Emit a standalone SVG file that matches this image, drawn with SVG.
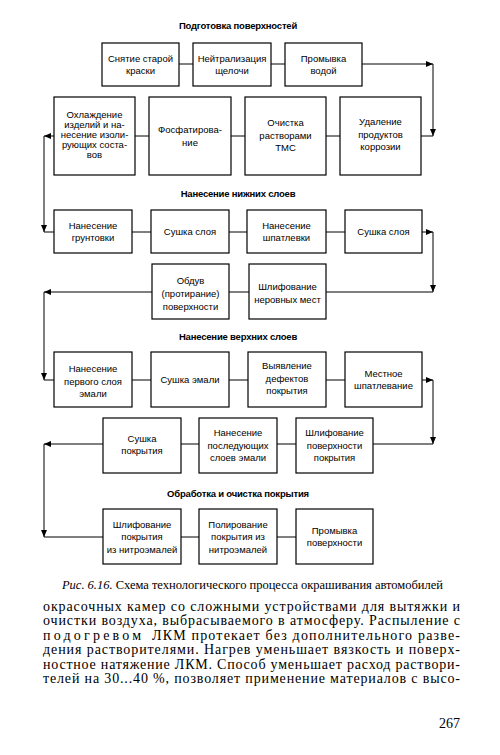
<svg xmlns="http://www.w3.org/2000/svg" width="500" height="755" viewBox="0 0 500 755">
<style>
.bx{fill:#fff;stroke:#000;stroke-width:1.2}
.t{font-family:"Liberation Sans",Arial,sans-serif;font-size:9.5px;text-anchor:middle;fill:#000}
.h{font-family:"Liberation Sans",Arial,sans-serif;font-size:9.5px;font-weight:bold;text-anchor:middle;fill:#000;letter-spacing:-0.2px}
.c{fill:none;stroke:#000;stroke-width:1}
.body{font-family:"Liberation Serif","Times New Roman",serif;font-size:14px;fill:#000}
.cap{font-family:"Liberation Serif","Times New Roman",serif;font-size:12.5px;fill:#000}
</style>
<defs>
<marker id="ar" markerUnits="userSpaceOnUse" markerWidth="7" markerHeight="6" refX="7" refY="3" orient="auto"><path d="M0,0 L7,3 L0,6 z" fill="#000"/></marker>
</defs>
<rect width="500" height="755" fill="#fff"/>
<g id="titles">
<text class="h" x="238" y="28.5">Подготовка поверхностей</text>
<text class="h" x="238" y="196.5">Нанесение нижних слоев</text>
<text class="h" x="238" y="339.5">Нанесение верхних слоев</text>
<text class="h" x="238" y="496.5">Обработка и очистка покрытия</text>
</g>
<g id="connectors">
<path class="c" d="M179,64 H193 M271,64 H285 M135,136 H149 M231,136 H245 M326,136 H340"/>
<path class="c" d="M362,64 H433" marker-end="url(#ar)"/>
<path class="c" d="M433,64 V136" marker-end="url(#ar)"/>
<path class="c" d="M421,136 H433"/>
<path class="c" d="M54,136 H44" marker-end="url(#ar)"/>
<path class="c" d="M44,136 V232" marker-end="url(#ar)"/>
<path class="c" d="M44,232 H54"/>
<path class="c" d="M132,232 H151 M229,232 H247 M326,232 H345 M229,292 H249"/>
<path class="c" d="M422,232 H433" marker-end="url(#ar)"/>
<path class="c" d="M433,232 V292" marker-end="url(#ar)"/>
<path class="c" d="M326,292 H433"/>
<path class="c" d="M152,292 H44" marker-end="url(#ar)"/>
<path class="c" d="M44,292 V380" marker-end="url(#ar)"/>
<path class="c" d="M44,380 H54"/>
<path class="c" d="M132,380 H151 M229,380 H248 M326,380 H345 M181,444 H199 M277,444 H296"/>
<path class="c" d="M422,380 H433" marker-end="url(#ar)"/>
<path class="c" d="M433,380 V444" marker-end="url(#ar)"/>
<path class="c" d="M373,444 H433"/>
<path class="c" d="M103,444 H44" marker-end="url(#ar)"/>
<path class="c" d="M44,444 V537" marker-end="url(#ar)"/>
<path class="c" d="M44,537 H103 M181,537 H199 M277,537 H296"/>
</g>
<g id="n1"><rect class="bx" x="102" y="43" width="77" height="43"/><text class="t" x="140.5" y="62">Снятие старой</text><text class="t" x="140.5" y="74">краски</text></g>
<g id="n2"><rect class="bx" x="193" y="43" width="78" height="43"/><text class="t" x="232" y="62">Нейтрализация</text><text class="t" x="232" y="74">щелочи</text></g>
<g id="n3"><rect class="bx" x="285" y="43" width="77" height="43"/><text class="t" x="323.5" y="62">Промывка</text><text class="t" x="323.5" y="74">водой</text></g>
<g id="n4"><rect class="bx" x="54" y="97" width="81" height="78"/><text class="t" x="94.5" y="118.4">Охлаждение</text><text class="t" x="94.5" y="128.4">изделий и на-</text><text class="t" x="94.5" y="138.4">несение изоли-</text><text class="t" x="94.5" y="148.4">рующих соста-</text><text class="t" x="94.5" y="158.4">вов</text></g>
<g id="n5"><rect class="bx" x="149" y="97" width="82" height="78"/><text class="t" x="190" y="133">Фосфатирова-</text><text class="t" x="190" y="146">ние</text></g>
<g id="n6"><rect class="bx" x="245" y="97" width="81" height="78"/><text class="t" x="285.5" y="126">Очистка</text><text class="t" x="285.5" y="138.5">растворами</text><text class="t" x="285.5" y="150.5">ТМС</text></g>
<g id="n7"><rect class="bx" x="340" y="97" width="81" height="78"/><text class="t" x="380.5" y="125.3">Удаление</text><text class="t" x="380.5" y="138">продуктов</text><text class="t" x="380.5" y="149.6">коррозии</text></g>
<g id="n8"><rect class="bx" x="54" y="210" width="78" height="43"/><text class="t" x="93" y="228.6">Нанесение</text><text class="t" x="93" y="241">грунтовки</text></g>
<g id="n9"><rect class="bx" x="151" y="210" width="78" height="43"/><text class="t" x="190" y="234.6">Сушка слоя</text></g>
<g id="n10"><rect class="bx" x="247" y="210" width="79" height="43"/><text class="t" x="286.5" y="228.6">Нанесение</text><text class="t" x="286.5" y="241">шпатлевки</text></g>
<g id="n11"><rect class="bx" x="345" y="210" width="77" height="43"/><text class="t" x="383.5" y="234.6">Сушка слоя</text></g>
<g id="n12"><rect class="bx" x="152" y="264" width="77" height="55"/><text class="t" x="190.5" y="283.6">Обдув</text><text class="t" x="190.5" y="296.6">(протирание)</text><text class="t" x="190.5" y="309.6">поверхности</text></g>
<g id="n13"><rect class="bx" x="249" y="264" width="77" height="55"/><text class="t" x="287.5" y="290.3">Шлифование</text><text class="t" x="287.5" y="302.6">неровных мест</text></g>
<g id="n14"><rect class="bx" x="54" y="352" width="78" height="55"/><text class="t" x="93" y="372">Нанесение</text><text class="t" x="93" y="384.6">первого слоя</text><text class="t" x="93" y="397">эмали</text></g>
<g id="n15"><rect class="bx" x="151" y="352" width="78" height="55"/><text class="t" x="190" y="383">Сушка эмали</text></g>
<g id="n16"><rect class="bx" x="248" y="352" width="78" height="55"/><text class="t" x="287" y="369.3">Выявление</text><text class="t" x="287" y="382">дефектов</text><text class="t" x="287" y="394.3">покрытия</text></g>
<g id="n17"><rect class="bx" x="345" y="352" width="77" height="55"/><text class="t" x="383.5" y="377">Местное</text><text class="t" x="383.5" y="389.3">шпатлевание</text></g>
<g id="n18"><rect class="bx" x="103" y="418" width="78" height="55"/><text class="t" x="142" y="442">Сушка</text><text class="t" x="142" y="453.6">покрытия</text></g>
<g id="n19"><rect class="bx" x="199" y="418" width="78" height="55"/><text class="t" x="238" y="436.3">Нанесение</text><text class="t" x="238" y="448.6">последующих</text><text class="t" x="238" y="461">слоев эмали</text></g>
<g id="n20"><rect class="bx" x="296" y="418" width="77" height="55"/><text class="t" x="334.5" y="436.3">Шлифование</text><text class="t" x="334.5" y="448.6">поверхности</text><text class="t" x="334.5" y="461">покрытия</text></g>
<g id="n21"><rect class="bx" x="103" y="509" width="78" height="55"/><text class="t" x="142" y="527.6">Шлифование</text><text class="t" x="142" y="540.3">покрытия</text><text class="t" x="142" y="553">из нитроэмалей</text></g>
<g id="n22"><rect class="bx" x="199" y="509" width="78" height="55"/><text class="t" x="238" y="527.6">Полирование</text><text class="t" x="238" y="540.3">покрытия из</text><text class="t" x="238" y="553">нитроэмалей</text></g>
<g id="n23"><rect class="bx" x="296" y="509" width="77" height="55"/><text class="t" x="334.5" y="533.6">Промывка</text><text class="t" x="334.5" y="546">поверхности</text></g>
<g id="caption">
<text class="cap" x="62" y="589" textLength="381" lengthAdjust="spacing"><tspan font-style="italic">Рис. 6.16.</tspan> Схема технологического процесса окрашивания автомобилей</text>
</g>
<g id="bodytext">
<text class="body" x="43" y="611" textLength="417" lengthAdjust="spacing">окрасочных камер со сложными устройствами для вытяжки и</text>
<text class="body" x="43" y="625.4" textLength="417" lengthAdjust="spacing">очистки воздуха, выбрасываемого в атмосферу. Распыление с</text>
<text class="body" x="43" y="639.8" letter-spacing="3.2">подогревом</text>
<text class="body" x="152" y="639.8" textLength="308" lengthAdjust="spacing">ЛКМ протекает без дополнительного разве-</text>
<text class="body" x="43" y="654.2" textLength="417" lengthAdjust="spacing">дения растворителями. Нагрев уменьшает вязкость и поверх-</text>
<text class="body" x="43" y="668.6" textLength="417" lengthAdjust="spacing">ностное натяжение ЛКМ. Способ уменьшает расход раствори-</text>
<text class="body" x="43" y="683" textLength="417" lengthAdjust="spacing">телей на 30...40 %, позволяет применение материалов с высо-</text>
<text class="body" x="460" y="728" text-anchor="end">267</text>
</g>
</svg>
